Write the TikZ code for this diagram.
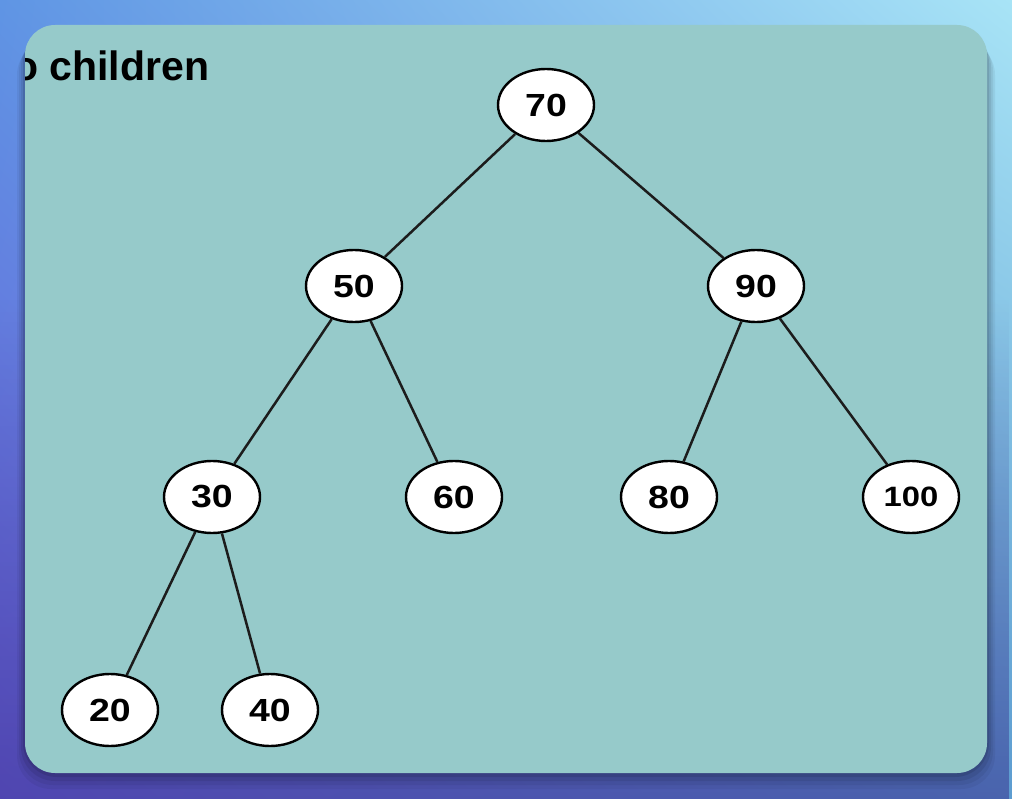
\documentclass[tikz,border=0pt]{standalone}
\usepackage{fontspec}
\setmainfont{Liberation Sans}
\newfontfamily\numfont{Liberation Sans}[FakeStretch=1.17]
\usetikzlibrary{shapes.geometric,shadings,fadings}
\definecolor{panel}{HTML}{96CACA}
\definecolor{bgul}{HTML}{5F95E4}
\definecolor{bgur}{HTML}{A8E4F6}
\definecolor{bgll}{HTML}{6A5AD8}
\definecolor{bglr}{HTML}{5C9CD0}
\definecolor{bgdark}{HTML}{3A3590}
\definecolor{edgecol}{HTML}{1C1C1C}
\tikzset{
  treenode/.style={ellipse, draw=black, line width=2.4pt, fill=white,
    minimum width=96pt, minimum height=72pt, inner sep=0pt,
    font=\numfont\bfseries\fontsize{32}{32}\selectfont},
  smallnum/.style={font=\numfont\bfseries\fontsize{28}{28}\selectfont},
  treeedge/.style={draw=edgecol, line width=2.5pt},
}
\begin{document}
\begin{tikzpicture}[x=1pt,y=-1pt]
\useasboundingbox (0,0) rectangle (1012,799);
% background
\shade[upper left=bgul, upper right=bgur, lower left=bgll, lower right=bglr] (0,0) rectangle (1012,799);
\fill[bgdark, path fading=north, opacity=0.55] (0,300) rectangle (1012,799);
% shadow (mostly below the panel)
\foreach \s/\o in {16/0.05,12/0.06,8/0.08,4/0.1}{
  \fill[black, opacity=\o, rounded corners=34pt] (25-\s/2,25+\s) rectangle (987+\s/2,773+\s);
}
% panel
\fill[panel, rounded corners=30pt] (25,25) rectangle (987,773);
\begin{scope}
\clip[rounded corners=30pt] (25,25) rectangle (987,773);
\node[anchor=base west, inner sep=0pt, font=\bfseries\fontsize{41}{41}\selectfont] (title) at (13,81) {o children};
\end{scope}
% nodes
\node[treenode] (n70) at (546,105) {70};
\node[treenode] (n50) at (354,286) {50};
\node[treenode] (n90) at (756,286) {90};
\node[treenode] (n30) at (212,497) {30};
\node[treenode] (n60) at (454,497) {60};
\node[treenode] (n80) at (669,497) {80};
\node[treenode, smallnum] (n100) at (911,497) {100};
\node[treenode] (n20) at (110,710) {20};
\node[treenode] (n40) at (270,710) {40};
% edges
\draw[treeedge] (n70) -- (n50);
\draw[treeedge] (n70) -- (n90);
\draw[treeedge] (n50) -- (n30);
\draw[treeedge] (n50) -- (n60);
\draw[treeedge] (n90) -- (n80);
\draw[treeedge] (n90) -- (n100);
\draw[treeedge] (n30) -- (n20);
\draw[treeedge] (n30) -- (n40);
\end{tikzpicture}
\end{document}
